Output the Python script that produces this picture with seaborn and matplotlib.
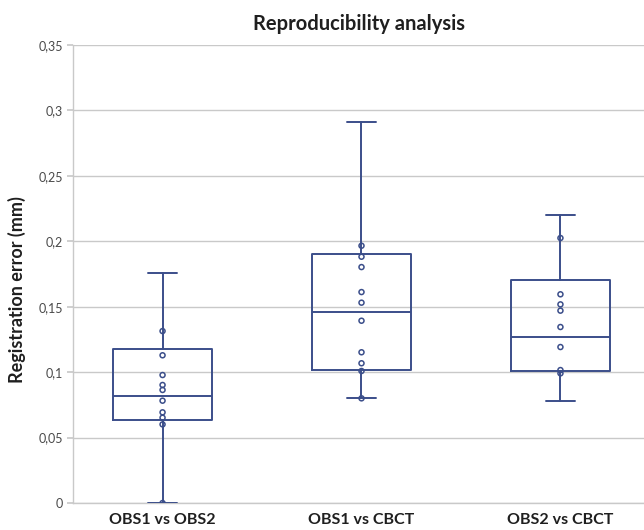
import matplotlib
matplotlib.use("Agg")
import matplotlib.pyplot as plt
import numpy as np
import pandas as pd
import seaborn as sns

# --- data ---
groups = ["OBS1 vs OBS2", "OBS1 vs CBCT", "OBS2 vs CBCT"]

# box statistics (Excel box & whisker)
whis_low = [0.0, 0.080, 0.0782]
q1 = [0.0634, 0.1014, 0.1006]
median = [0.082, 0.146, 0.1269]
q3 = [0.1174, 0.1903, 0.1702]
whis_high = [0.1755, 0.2914, 0.2203]

# inner points
pts_obs1_obs2 = [0.1314, 0.1129, 0.0978, 0.0902, 0.0864, 0.0782, 0.0693, 0.0652, 0.0601, 0.0]
pts_obs1_cbct = [0.1966, 0.1882, 0.1803, 0.1612, 0.1531, 0.1393, 0.1152, 0.1068, 0.1009, 0.080]
pts_obs2_cbct = [0.2025, 0.1595, 0.1518, 0.1470, 0.1345, 0.1192, 0.1016, 0.0991]

y_ticks = [0, 0.05, 0.1, 0.15, 0.2, 0.25, 0.3, 0.35]
y_tick_labels = ["0", "0,05", "0,1", "0,15", "0,2", "0,25", "0,3", "0,35"]

NAVY = "#3b4e8a"
GRID = "#c9c9c9"
TEXT = "#4a4a4a"

sns.set_theme(style="white")
plt.rcParams["font.family"] = ["Lato", "DejaVu Sans"]

points = pd.DataFrame({
    "group": [groups[0]] * len(pts_obs1_obs2)
    + [groups[1]] * len(pts_obs1_cbct)
    + [groups[2]] * len(pts_obs2_cbct),
    "error": pts_obs1_obs2 + pts_obs1_cbct + pts_obs2_cbct,
})

fig = plt.figure(figsize=(6.44, 5.30), dpi=100)
ax = fig.add_axes([0.1134, 0.0509, 0.8866, 0.8642])

stats = [
    {"whislo": whis_low[i], "q1": q1[i], "med": median[i], "q3": q3[i],
     "whishi": whis_high[i], "fliers": [], "label": groups[i]}
    for i in range(len(groups))
]
line = dict(color=NAVY, linewidth=1.4)
ax.bxp(stats, positions=range(len(groups)), widths=0.5, capwidths=0.15,
       showfliers=False, boxprops=line, whiskerprops=line, capprops=line,
       medianprops=line, zorder=3)

sns.stripplot(data=points, x="group", y="error", order=groups, jitter=False,
              size=3.6, color=NAVY, linewidth=1.1, ax=ax, zorder=4)
for coll in ax.collections:
    coll.set_facecolor("none")
    coll.set_edgecolor(NAVY)

ax.set_xlim(-0.45, 2.42)
ax.set_ylim(0, 0.35)
ax.set_yticks(y_ticks)
ax.set_yticklabels(y_tick_labels)
ax.set_xticks(range(len(groups)))
ax.set_xticklabels(groups)

ax.yaxis.grid(True, color=GRID, linewidth=1.0)
ax.set_axisbelow(True)
for side in ["top", "right"]:
    ax.spines[side].set_visible(False)
for side in ["left", "bottom"]:
    ax.spines[side].set_color(GRID)
    ax.spines[side].set_linewidth(1.0)

ax.tick_params(axis="y", left=True, length=4, color=GRID, labelsize=9,
               labelcolor=TEXT, pad=3)
ax.tick_params(axis="x", bottom=False, labelsize=11.5, pad=1.5)
for lbl in ax.get_xticklabels():
    lbl.set_fontweight("bold")
    lbl.set_color("#1f1f1f")

ax.set_xlabel("")
ax.set_ylabel("Registration error (mm)", fontsize=13, fontweight="bold",
              color="#1f1f1f")
ax.yaxis.set_label_coords(-0.083, 0.465)
ax.set_title("Reproducibility analysis", fontsize=14.5, fontweight="bold",
             color="#1f1f1f", pad=11)

fig.savefig("out.png", dpi=100)
